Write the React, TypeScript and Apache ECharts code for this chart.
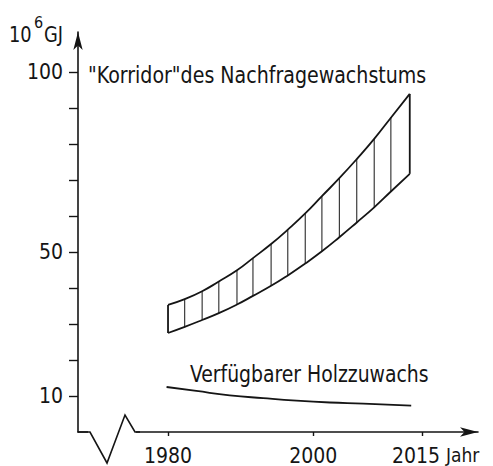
import React, { useEffect, useRef } from 'react';
import * as echarts from 'echarts';

// Corridor of demand growth (10^6 GJ), read at the hatch positions
const hatchYears = [1980, 1982.3, 1984.7, 1987.0, 1989.5, 1991.7, 1994.2, 1996.5, 1998.9, 2001.2, 2003.6, 2006.0, 2008.4, 2010.7, 2013.3];
const corridorUpper = [35.3, 36.9, 39.1, 41.8, 44.9, 48.3, 52.2, 56.2, 60.7, 65.5, 70.5, 75.8, 81.4, 87.3, 93.9];
const corridorLower = [27.5, 29.2, 31.1, 33.0, 35.4, 37.8, 40.6, 43.5, 46.8, 50.2, 54.1, 58.2, 62.4, 66.8, 71.7];

// Available wood growth
const holzYears = [1979.8, 1983.9, 1988.5, 1993.1, 1997.7, 2002.3, 2006.9, 2013.5];
const holzValues = [12.5, 11.4, 10.2, 9.4, 8.7, 8.2, 7.9, 7.3];

const xTickYears = [1980, 2000, 2015];
const yLabelValues = [10, 50, 100];
const yTickValues = [10, 20, 30, 40, 50, 60, 70, 80, 90, 100];

const FONT = "'DejaVu Sans Condensed', 'DejaVu Sans', sans-serif";
const INK = '#151515';

export default function App() {
  const ref = useRef<HTMLDivElement>(null);
  useEffect(() => {
    if (!ref.current) return;
    const chart = echarts.init(ref.current, undefined, { renderer: 'svg' });
    const last = hatchYears.length - 1;
    const lastTick = xTickYears[xTickYears.length - 1];
    chart.setOption({
      animation: false,
      backgroundColor: '#ffffff',
      grid: { left: 78, right: 15, top: 32, bottom: 34 },
      xAxis: {
        type: 'value',
        min: 1967.6,
        max: 2022.7,
        axisLine: { show: true, symbol: ['none', 'arrow'], symbolSize: [7, 18], lineStyle: { color: INK, width: 1.6 } },
        axisTick: { show: true, customValues: xTickYears, length: 4, lineStyle: { color: INK, width: 1.4 } },
        axisLabel: {
          show: true,
          customValues: xTickYears,
          formatter: (v: number) => (v === lastTick ? `{s|${v}}` : String(v)),
          margin: 13,
          color: INK,
          fontFamily: FONT,
          fontSize: 21,
          rich: {
            s: { padding: [0, 12, 0, 0], color: INK, fontFamily: FONT, fontSize: 21 },
          },
        },
        splitLine: { show: false },
      },
      yAxis: {
        type: 'value',
        min: 0,
        max: 111.1,
        axisLine: { show: true, symbol: ['none', 'arrow'], symbolSize: [7, 18], lineStyle: { color: INK, width: 1.6 } },
        axisTick: { show: true, customValues: yTickValues, length: 9, lineStyle: { color: INK, width: 1.4 } },
        axisLabel: {
          show: true,
          customValues: yLabelValues,
          formatter: (v: number) => String(v),
          margin: 15,
          color: INK,
          fontFamily: FONT,
          fontSize: 21,
        },
        splitLine: { show: false },
      },
      series: [
        {
          type: 'custom',
          data: hatchYears.map((y, i) => [y, corridorLower[i], corridorUpper[i]]),
          renderItem: (params: any, api: any) => {
            const p1 = api.coord([api.value(0), api.value(1)]);
            const p2 = api.coord([api.value(0), api.value(2)]);
            const edge = params.dataIndex === 0 || params.dataIndex === last;
            return {
              type: 'line',
              shape: { x1: p1[0], y1: p1[1], x2: p2[0], y2: p2[1] },
              style: { stroke: INK, lineWidth: edge ? 1.8 : 1 },
            };
          },
          z: 3,
        },
        {
          type: 'line',
          data: hatchYears.map((y, i) => [y, corridorUpper[i]]),
          smooth: 0.5,
          symbol: 'none',
          lineStyle: { color: INK, width: 1.8 },
          z: 4,
        },
        {
          type: 'line',
          data: hatchYears.map((y, i) => [y, corridorLower[i]]),
          smooth: 0.5,
          symbol: 'none',
          lineStyle: { color: INK, width: 1.8 },
          z: 4,
        },
        {
          type: 'line',
          data: holzYears.map((y, i) => [y, holzValues[i]]),
          smooth: 0.5,
          symbol: 'none',
          lineStyle: { color: INK, width: 1.8 },
          z: 4,
        },
      ],
      graphic: [
        { type: 'rect', shape: { x: 88, y: 429, width: 48, height: 6 }, style: { fill: '#ffffff' }, z: 100 },
        {
          type: 'polyline',
          shape: { points: [[78, 432], [90, 432], [107, 463], [125, 415], [135, 432], [140, 432]] },
          style: { stroke: INK, lineWidth: 1.6, fill: 'none' },
          z: 101,
        },
        { type: 'text', x: 9, y: 35, scaleX: 0.9, style: { text: '10', fontFamily: FONT, fontSize: 22, fill: INK, verticalAlign: 'middle' }, z: 101 },
        { type: 'text', x: 34, y: 22, style: { text: '6', fontFamily: FONT, fontSize: 16, fill: INK, verticalAlign: 'middle' }, z: 101 },
        { type: 'text', x: 44, y: 35, scaleX: 0.9, style: { text: 'GJ', fontFamily: FONT, fontSize: 22, fill: INK, verticalAlign: 'middle' }, z: 101 },
        {
          type: 'text', x: 88, y: 75, scaleX: 0.92,
          style: { text: '"Korridor"des Nachfragewachstums', fontFamily: FONT, fontSize: 23, fill: INK, verticalAlign: 'middle' },
          z: 101,
        },
        {
          type: 'text', x: 190, y: 374, scaleX: 0.91,
          style: { text: 'Verfügbarer Holzzuwachs', fontFamily: FONT, fontSize: 23, fill: INK, verticalAlign: 'middle' },
          z: 101,
        },
        { type: 'text', x: 446, y: 455, style: { text: 'Jahr', fontFamily: FONT, fontSize: 19, fill: INK, verticalAlign: 'middle' }, z: 101 },
      ],
    });
    return () => chart.dispose();
  }, []);
  return <div ref={ref} style={{ position: 'fixed', left: 0, top: 0, width: 493, height: 466 }} />;
}
